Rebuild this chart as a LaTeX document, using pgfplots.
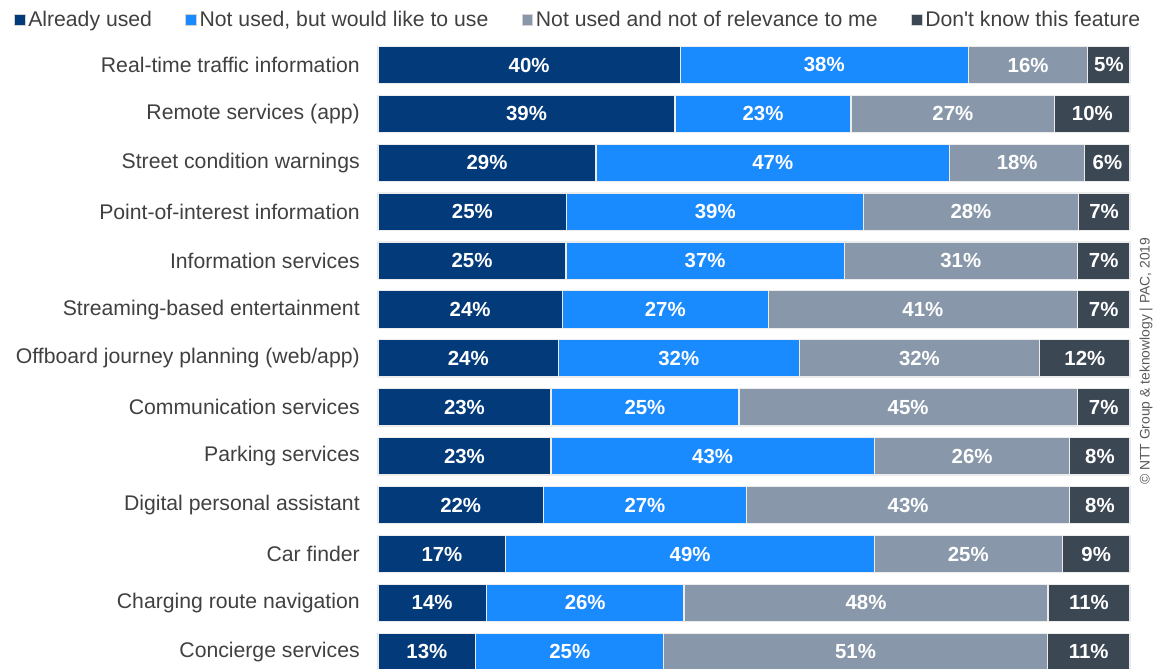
\documentclass[border=0pt]{standalone}
\usepackage{pgfplots}
\pgfplotsset{compat=1.18}
\usepackage{pgfplotstable}
\usepackage{fontspec}
\setmainfont{Liberation Sans}
\definecolor{cNavy}{HTML}{033A7A}
\definecolor{cBlue}{HTML}{1A8AFF}
\definecolor{cGray}{HTML}{8898AA}
\definecolor{cDark}{HTML}{3C4754}
\definecolor{txt}{HTML}{404040}
\pgfplotstableread{
y a b c d la lb lc ld
0 40.2 38.3 15.9 5.6 40 38 16 5
1 39.5 23.4 27.1 10.0 39 23 27 10
2 29 47 18 6 29 47 18 6
3 25.1 39.5 28.5 6.9 25 39 28 7
4 25 37 31 7 25 37 31 7
5 24.5 27.4 41.1 7.0 24 27 41 7
6 24 32 32 12 24 32 32 12
7 23 25 45 7 23 25 45 7
8 23 43 26 8 23 43 26 8
9 22 27 43 8 22 27 43 8
10 17 49 25 9 17 49 25 9
11 14.4 26.3 48.4 10.9 14 26 48 11
12 13 25 51 11 13 25 51 11
}\datatable
\begin{document}
\begin{tikzpicture}
\begin{axis}[
  name=ax,
  scale only axis,
  width=564pt, height=470.6pt,
  xbar stacked,
  bar width=28pt,
  xmin=0, xmax=100,
  ymin=-0.5, ymax=12.33,
  y dir=reverse,
  hide x axis,
  axis line style={draw=none},
  major tick length=0pt,
  ytick={0,...,12},
  yticklabels={Real-time traffic information,Remote services (app),Street condition warnings,Point-of-interest information,Information services,Streaming-based entertainment,Offboard journey planning (web/app),Communication services,Parking services,Digital personal assistant,Car finder,Charging route navigation,Concierge services},
  yticklabel style={font=\fontsize{15.9}{19}\selectfont, text=txt, inner sep=0pt, xshift=-13.5pt},
  point meta=explicit symbolic,
  nodes near coords={\pgfplotspointmeta\%},
  every node near coord/.append style={font=\fontsize{15.3}{18}\selectfont\bfseries, text=white},
  legend style={draw=none, fill=none, legend columns=4,
    at={(0.2666,1.0327)}, anchor=center,
    font=\fontsize{15.9}{19}\selectfont, text=txt,
    /tikz/every even column/.append style={column sep=23pt},
    /tikz/every odd column/.append style={column sep=0pt}},
  legend image code/.code={\draw[#1, draw=white!65!gray, line width=0.7pt] (0pt,-4pt) rectangle (8pt,4pt);},
  clip mode=individual,
]
\addplot[fill=cNavy, draw=white!85!gray, line width=0.9pt] table[x=a, y=y, meta=la] {\datatable};
\addplot[fill=cBlue, draw=white!85!gray, line width=0.9pt] table[x=b, y=y, meta=lb] {\datatable};
\addplot[fill=cGray, draw=white!85!gray, line width=0.9pt] table[x=c, y=y, meta=lc] {\datatable};
\addplot[fill=cDark, draw=white!85!gray, line width=0.9pt] table[x=d, y=y, meta=ld] {\datatable};
\legend{Already used, {Not used, but would like to use}, Not used and not of relevance to me, Don\textquotesingle t know this feature}
\node[overlay, rotate=90, font=\fontsize{10.4}{12}\selectfont, text=black!65, anchor=center] at (axis description cs:1.0215,0.489) {© NTT Group \& teknowlogy | PAC, 2019};
\end{axis}
\useasboundingbox ([xshift=-283.5pt]ax.south west) rectangle ([xshift=17.25pt,yshift=30.4pt]ax.north east);
\end{tikzpicture}
\end{document}
